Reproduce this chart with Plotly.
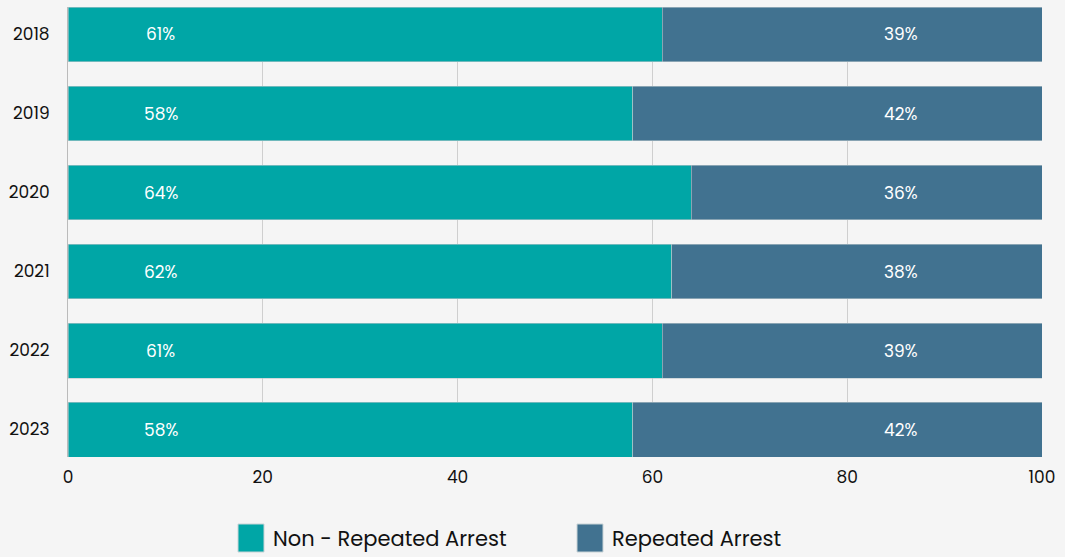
import plotly.graph_objects as go

years = ["2018", "2019", "2020", "2021", "2022", "2023"]
non_repeated = [61, 58, 64, 62, 61, 58]
repeated = [39, 42, 36, 38, 39, 42]
series_names = ["Non - Repeated Arrest", "Repeated Arrest"]
x_ticks = [0, 20, 40, 60, 80, 100]

COL_NON = "#00a6a6"
COL_REP = "#417290"
BG = "#f5f5f5"
FONT = "Poppins, Lato, 'Open Sans', sans-serif"

W, H = 1065, 557
ML, MR, MT, MB = 68, 23, 7, 100
PW, PH = W - ML - MR, H - MT - MB

# label anchor positions (axis units) used by the original chart
LABEL_X = [9.5, 85.5]

fig = go.Figure()
for name, vals, col in [(series_names[0], non_repeated, COL_NON),
                        (series_names[1], repeated, COL_REP)]:
    fig.add_trace(go.Bar(
        y=years, x=vals, name=name, orientation="h",
        marker=dict(color=col, line=dict(color="#b9c6cc", width=0.6)),
        showlegend=False, hoverinfo="x+y+name",
    ))

annotations = []
for i, y in enumerate(years):
    for lx, vals in zip(LABEL_X, [non_repeated, repeated]):
        annotations.append(dict(
            x=lx, y=i, xref="x", yref="y", text=f"{vals[i]}%",
            showarrow=False,
            font=dict(color="white", size=17, family=FONT),
        ))

# custom legend (pixel positions converted to paper coords)
def px_x(p):
    return (p - ML) / PW

def px_y(p):
    return (H - MB - p) / PH

shapes = []
legend_items = [(238, 264, 271, COL_NON, series_names[0]),
                (577, 603, 610, COL_REP, series_names[1])]
for x0, x1, tx, col, name in legend_items:
    shapes.append(dict(type="rect", xref="paper", yref="paper",
                       x0=px_x(x0), x1=px_x(x1), y0=px_y(552), y1=px_y(524),
                       fillcolor=col, line=dict(color="#c9d3d6", width=1)))
    annotations.append(dict(x=px_x(tx), y=px_y(538), xref="paper", yref="paper",
                            xanchor="left", yanchor="middle", text=name,
                            showarrow=False,
                            font=dict(size=21, color="#111111", family=FONT)))

half = (1 - 0.304) / 2
fig.update_layout(
    width=W, height=H,
    margin=dict(l=ML, r=MR, t=MT, b=MB, pad=0),
    barmode="stack", bargap=0.304,
    paper_bgcolor=BG, plot_bgcolor=BG,
    font=dict(family=FONT, color="#111111", size=17),
    xaxis=dict(range=[0, 100], tickvals=x_ticks, showgrid=True,
               gridcolor="#cfcfcf", gridwidth=1, zeroline=False,
               showline=False, ticks="",
               tickfont=dict(size=17),
               ticklabelstandoff=8),
    yaxis=dict(type="category", categoryorder="array", categoryarray=years,
               range=[len(years) - 1 + half, -half], showgrid=False,
               zeroline=False, showline=True, linecolor="#bbbbbb",
               ticks="", tickfont=dict(size=17),
               ticklabelstandoff=14),
    shapes=shapes,
    annotations=annotations,
)

fig.write_html("out.html",
               config={"displayModeBar": False},
               post_script="document.body.style.margin='0';"
                           "document.body.style.background='%s';" % BG)
